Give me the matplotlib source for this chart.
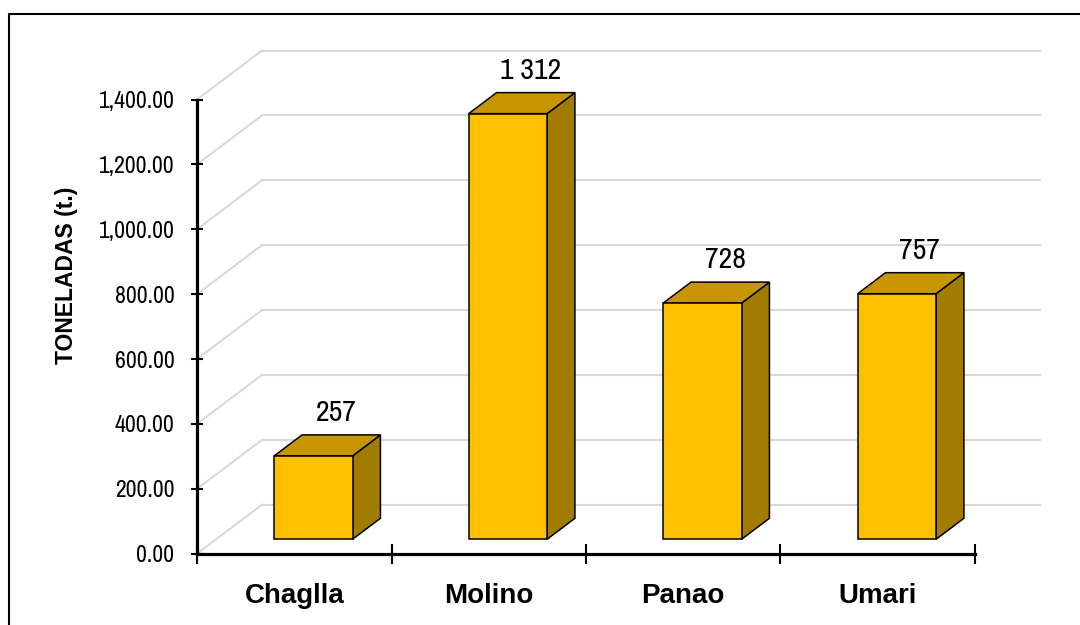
import matplotlib
matplotlib.use("Agg")
import matplotlib.pyplot as plt
from matplotlib.patches import Polygon
from matplotlib.lines import Line2D
from matplotlib.transforms import ScaledTranslation
from matplotlib import font_manager

# Data
categories = ["Chaglla", "Molino", "Panao", "Umari"]
values = [257, 1312, 728, 757]
y_ticks = [0, 200, 400, 600, 800, 1000, 1200, 1400]
y_label = "TONELADAS (t.)"

# Fonts: a narrow grotesque for plain text, Arial-like bold for headings
names = {f.name for f in font_manager.fontManager.ttflist}
families = [n for n in ("Archivo Narrow", "Liberation Sans") if n in names]
plt.rcParams["font.family"] = families + ["DejaVu Sans"]
BOLD_FAMILY = ["Liberation Sans", "DejaVu Sans"]

FRONT = "#FFC000"
TOP = "#C79600"
SIDE = "#A27C00"
GRID = "#D9D9D9"

fig = plt.figure(figsize=(10.8, 6.25), dpi=100)
W, H = 1080, 625
ax = fig.add_axes([197 / W, (H - 553.7) / H, 778 / W, (553.7 - 99.5) / H])
ax.set_xlim(0, len(categories))
ax.set_ylim(0, 1400)
ax.patch.set_visible(False)

# 3D depth vector of the floor/walls in data units
px_x = 778 / len(categories)
px_y = (553.7 - 99.5) / 1400
dx = 65 / px_x
dy = 49 / px_y

# Walls: side wall diagonals and back wall gridlines
for v in y_ticks:
    ax.plot([0, dx], [v, v + dy], color=GRID, lw=1.5, clip_on=False, zorder=1)
    ax.plot([dx, len(categories) + dx], [v + dy, v + dy], color=GRID, lw=1.5,
            clip_on=False, zorder=1)

# Bars
f0 = 0.294          # front face depth
fd = 0.429          # bar depth
bw = 0.403          # bar width
ddx, ddy = fd * dx, fd * dy
for i, v in enumerate(values):
    x0 = i + 0.5 - bw / 2 + f0 * dx
    y0 = f0 * dy
    x1 = x0 + bw
    y1 = y0 + v
    side = Polygon([(x1, y0), (x1 + ddx, y0 + ddy), (x1 + ddx, y1 + ddy), (x1, y1)],
                   closed=True, facecolor=SIDE, edgecolor="black", lw=1.1,
                   clip_on=False, zorder=3, joinstyle="miter")
    top = Polygon([(x0, y1), (x0 + ddx, y1 + ddy), (x1 + ddx, y1 + ddy), (x1, y1)],
                  closed=True, facecolor=TOP, edgecolor="black", lw=1.1,
                  clip_on=False, zorder=3, joinstyle="miter")
    front = Polygon([(x0, y0), (x1, y0), (x1, y1), (x0, y1)],
                    closed=True, facecolor=FRONT, edgecolor="black", lw=1.1,
                    clip_on=False, zorder=4, joinstyle="miter")
    for p in (side, top, front):
        ax.add_patch(p)
    lbl = f"{v:,}".replace(",", " ")
    ax.text(i + 0.715, y1 + 108, lbl, ha="center", va="baseline", fontsize=21.5,
            color="black", clip_on=False, zorder=5)

# Axes lines
for s in ("top", "right"):
    ax.spines[s].set_visible(False)
for s in ("left", "bottom"):
    ax.spines[s].set_linewidth(2.3)
    ax.spines[s].set_zorder(6)

ax.set_yticks(y_ticks)
ax.set_yticklabels([f"{v:,.2f}" for v in y_ticks])
ax.tick_params(axis="y", direction="inout", length=8.6, width=1.5, pad=12,
               labelsize=17)
ax.set_xticks(range(len(categories) + 1))
ax.set_xticklabels([])
ax.tick_params(axis="x", direction="inout", length=13.7, width=1.5)

# Category names below the axis
off = ScaledTranslation(0, -35.3 / 72, fig.dpi_scale_trans)
for i, c in enumerate(categories):
    ax.text(i + 0.5, 0, c, transform=ax.transData + off, ha="center",
            va="baseline", fontsize=20, fontweight="bold", family=BOLD_FAMILY,
            clip_on=False)

fig.text(67 / W, 1 - 275 / H, y_label, rotation=90, ha="center", va="center",
         fontsize=16.5, fontweight="bold", family=BOLD_FAMILY)

# Outer frame
fig.add_artist(Line2D([9 / W, 9 / W, 1.05], [-0.05, 1 - 14 / H, 1 - 14 / H],
                      transform=fig.transFigure, color="black", lw=1.5))

fig.savefig("out.png", dpi=100)
